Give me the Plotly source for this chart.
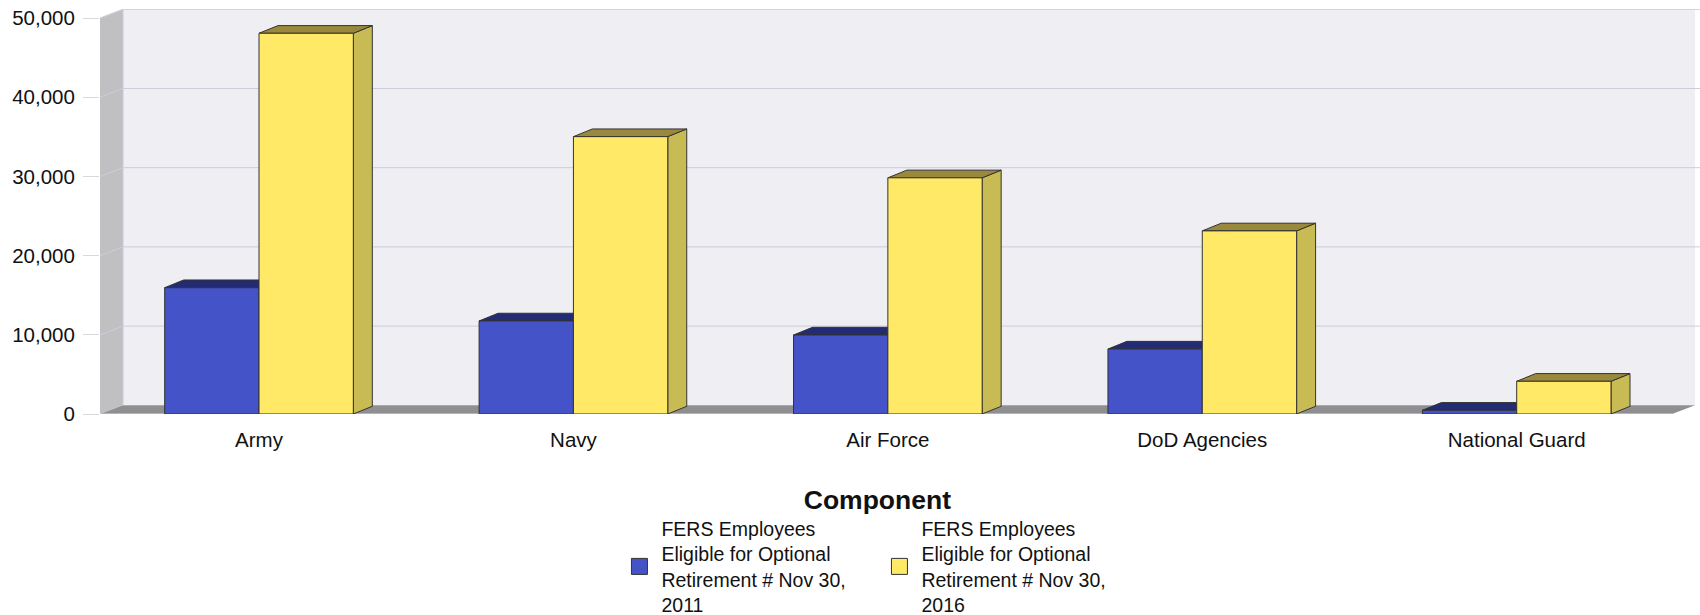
import plotly.graph_objects as go

categories = ["Army", "Navy", "Air Force", "DoD Agencies", "National Guard"]
values_2011 = [15950, 11750, 9975, 8200, 470]
values_2016 = [48070, 35020, 29820, 23120, 4130]
y_ticks = [0, 10000, 20000, 30000, 40000, 50000]
name_2011 = "FERS Employees<br>Eligible for Optional<br>Retirement # Nov 30,<br>2011"
name_2016 = "FERS Employees<br>Eligible for Optional<br>Retirement # Nov 30,<br>2016"

BLUE, BLUE_TOP, BLUE_SIDE = "#4453C8", "#232C72", "#2D3788"
YEL, YEL_TOP, YEL_SIDE = "#FFE966", "#9A893C", "#C9BB54"
WALL, SIDE, FLOOR, GRID = "#EFEEF3", "#C0C0C2", "#8F8F91", "#CDCBDD"
EDGE = "#333333"

xs = list(range(len(categories)))
BAR_W = 0.3
X_MIN, X_MAX = -0.5057, 4.583
Y_MAX = 51136
WALL_DX, WALL_DY = 0.0732, 1098
BAR_DX, BAR_DY = 0.0604, 972
FLOOR_END = 4.494


def poly(pts, fill, line=None, width=1):
    d = "M" + " L".join(f"{a},{b}" for a, b in pts) + " Z"
    return dict(type="path", path=d, xref="x", yref="y", layer="below", fillcolor=fill,
                line=dict(color=line or fill, width=width if line else 0))


shapes = []
shapes.append(poly([(X_MIN + WALL_DX, WALL_DY), (FLOOR_END + WALL_DX, WALL_DY),
                    (FLOOR_END + WALL_DX, Y_MAX), (X_MIN + WALL_DX, Y_MAX)], WALL))
shapes.append(poly([(X_MIN, 0), (X_MIN + WALL_DX, WALL_DY),
                    (X_MIN + WALL_DX, Y_MAX), (X_MIN, 50000)], SIDE))
shapes.append(poly([(X_MIN, 0), (FLOOR_END, 0), (FLOOR_END + WALL_DX, WALL_DY),
                    (X_MIN + WALL_DX, WALL_DY)], FLOOR))
for v in y_ticks:
    if v > 0:
        shapes.append(dict(type="path", xref="x", yref="y", layer="below",
                           path=f"M{X_MIN},{v} L{X_MIN + WALL_DX},{v + WALL_DY} L{X_MAX},{v + WALL_DY}",
                           line=dict(color=GRID, width=1)))
shapes.append(dict(type="line", xref="x", yref="y", layer="below", x0=X_MIN, x1=FLOOR_END, y0=0, y1=0,
                   line=dict(color="#D8D8DE", width=1)))
shapes.append(dict(type="line", xref="x", yref="y", layer="below", x0=X_MIN + WALL_DX, x1=X_MIN + WALL_DX,
                   y0=WALL_DY, y1=Y_MAX, line=dict(color=GRID, width=1)))

for x, a, b in zip(xs, values_2011, values_2016):
    for left, v, top, side in ((x - BAR_W, a, BLUE_TOP, BLUE_SIDE), (x, b, YEL_TOP, YEL_SIDE)):
        right = left + BAR_W
        shapes.append(poly([(right, 0), (right + BAR_DX, BAR_DY), (right + BAR_DX, v + BAR_DY), (right, v)], side, EDGE))
        shapes.append(poly([(left, v), (right, v), (right + BAR_DX, v + BAR_DY), (left + BAR_DX, v + BAR_DY)], top, EDGE))

fig = go.Figure()
fig.add_bar(x=xs, y=values_2011, name=name_2011, marker=dict(color=BLUE, line=dict(color=EDGE, width=1)), showlegend=False)
fig.add_bar(x=xs, y=values_2016, name=name_2016, marker=dict(color=YEL, line=dict(color=EDGE, width=1)), showlegend=False)
for nm, col in ((name_2011, BLUE), (name_2016, YEL)):
    fig.add_scatter(x=[None], y=[None], mode="markers", name=nm,
                    marker=dict(symbol="square", size=16, color=col, line=dict(color=EDGE, width=1)))

fig.update_layout(
    width=1700, height=638, margin=dict(l=100, r=0, t=9, b=224),
    paper_bgcolor="white", plot_bgcolor="rgba(0,0,0,0)",
    barmode="group", bargap=0.4, bargroupgap=0,
    font=dict(family="Liberation Sans, Arial, sans-serif", color="#111111", size=21),
    shapes=shapes,
    xaxis=dict(range=[X_MIN, X_MAX], tickvals=xs, ticktext=categories, showgrid=False, zeroline=False,
               showline=False, ticks="outside", ticklen=7, tickcolor="rgba(0,0,0,0)",
               tickfont=dict(size=20.5), automargin=False),
    yaxis=dict(range=[0, Y_MAX], tickvals=y_ticks, tickformat=",d", showgrid=False, zeroline=False,
               showline=False, ticks="outside", ticklen=16, tickcolor="#D8D8DE", tickwidth=1,
               tickfont=dict(size=20.5), ticklabelstandoff=4, automargin=False, ticklabeloverflow="allow"),
    legend=dict(orientation="h", x=0.3234, xanchor="left", y=-0.15, yanchor="top",
                title=dict(text="<b>Component</b>", side="top center", font=dict(size=26.5)),
                font=dict(size=19.5), entrywidth=211, entrywidthmode="pixels", itemwidth=34,
                itemclick=False, bgcolor="rgba(0,0,0,0)", tracegroupgap=0),
)
fig.write_html("out.html", config={"displayModeBar": False},
               post_script="document.body.style.margin='0';document.body.style.overflow='hidden';")
